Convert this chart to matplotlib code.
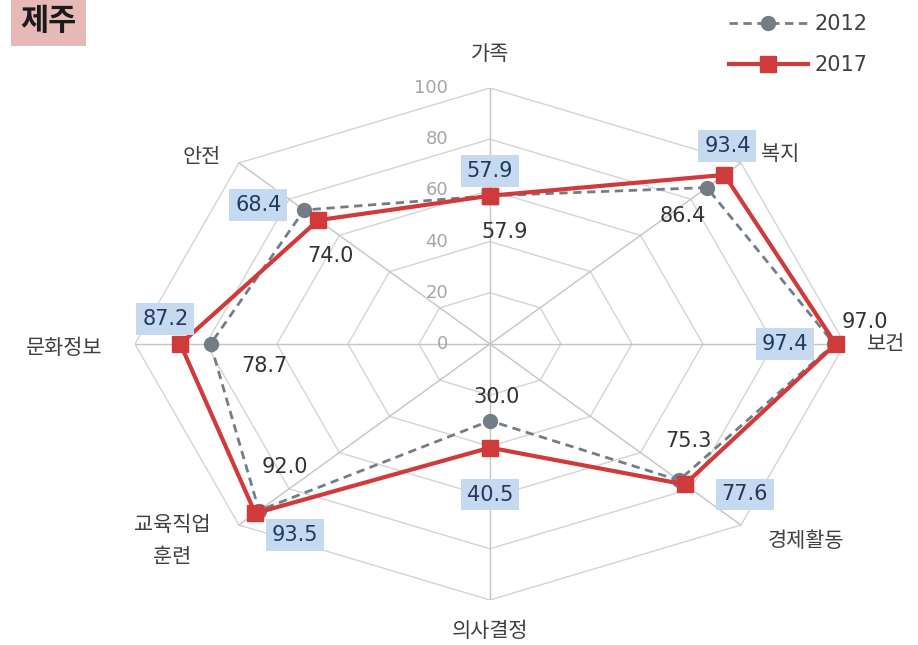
import numpy as np
import matplotlib
matplotlib.use("Agg")
import matplotlib.pyplot as plt

plt.rcParams['font.family'] = ['Noto Sans CJK KR', 'DejaVu Sans']

categories = ['가족', '복지', '보건', '경제활동', '의사결정', '교육직업\n훈련', '문화정보', '안전']
values_2012 = [57.9, 86.4, 97.0, 75.3, 30.0, 92.0, 78.7, 74.0]
values_2017 = [57.9, 93.4, 97.4, 77.6, 40.5, 93.5, 87.2, 68.4]
ring_ticks = [0, 20, 40, 60, 80, 100]

# label offsets in pixels (x, y) relative to each point
off_2017 = [(0, 25), (3, 29), (-51, 0), (60, -10), (0, -47), (40, -22), (-15, 25), (-60, 15)]
off_2012 = [(15, -36), (-24, -28), (31, 22), (9, 39), (7, 24), (26, 44), (54, -22), (26, -46)]
off_cat = [(0, 34), (39, 9), (41, 0), (65, -16), (0, -31), (-67, -16), (-71, -4), (-37, 6)]

c2012 = '#737d87'
c2017 = '#d03a3a'
num_font = 'DejaVu Sans'

n = len(categories)
theta = np.arange(n) * 2 * np.pi / n


def to_xy(r):
    r = np.asarray(r, dtype=float)
    return r * np.sin(theta), r * np.cos(theta)


fig = plt.figure(figsize=(9.18, 6.45), dpi=100)
ax = fig.add_axes([0.147, 0.0698, 0.7734, 0.7938])
ax.set_xlim(-100, 100)
ax.set_ylim(-100, 100)
ax.axis('off')

# octagon grid
for r in ring_ticks[1:]:
    gx, gy = to_xy([r] * n)
    ax.plot(np.append(gx, gx[0]), np.append(gy, gy[0]), color='#d4d4d4', lw=1, zorder=1)
sx, sy = to_xy([100] * n)
for x, y in zip(sx, sy):
    ax.plot([0, x], [0, y], color='#c4c4c4', lw=1, zorder=1)

for r in ring_ticks:
    ax.annotate(str(r), xy=(0, r), xytext=(-42, 0), textcoords='offset pixels',
                ha='right', va='center', fontsize=13, color='#a6a6a6',
                family=num_font, zorder=2)

# series
x12, y12 = to_xy(values_2012)
x17, y17 = to_xy(values_2017)
ax.plot(np.append(x12, x12[0]), np.append(y12, y12[0]), color=c2012, lw=2,
        ls=(0, (3, 2)), marker='o', ms=10, zorder=3)
ax.plot(np.append(x17, x17[0]), np.append(y17, y17[0]), color=c2017, lw=3,
        marker='s', ms=11, zorder=4)

for i in range(n):
    ax.annotate(f'{values_2017[i]:.1f}', xy=(x17[i], y17[i]), xytext=off_2017[i],
                textcoords='offset pixels', ha='center', va='center', fontsize=15,
                color='#1f3a5f', family=num_font, zorder=5,
                bbox=dict(boxstyle='square,pad=0.28', fc='#c5d9f1', ec='none'))
    ax.annotate(f'{values_2012[i]:.1f}', xy=(x12[i], y12[i]), xytext=off_2012[i],
                textcoords='offset pixels', ha='center', va='center', fontsize=15,
                color='#333333', family=num_font, zorder=5)
    ax.annotate(categories[i], xy=(sx[i], sy[i]), xytext=off_cat[i],
                textcoords='offset pixels', ha='center', va='center', fontsize=15,
                color='#404040', linespacing=1.6, zorder=5)

# title box
fig.text(0.053, 0.967, '제주', ha='center', va='center', fontsize=22, fontweight='bold',
         color='#1a1a1a', bbox=dict(boxstyle='square,pad=0.3', fc='#e6b8b7', ec='none'))

# legend
h12, = ax.plot([], [], color=c2012, lw=2, ls=(0, (3, 2)), marker='o', ms=10)
h17, = ax.plot([], [], color=c2017, lw=3, marker='s', ms=11)
leg = fig.legend([h12, h17], ['2012', '2017'], loc='upper right', bbox_to_anchor=(0.965, 1.007),
                 frameon=False, handlelength=3.8, labelspacing=1.0,
                 handletextpad=0.3, labelcolor='#404040',
                 prop={'family': num_font, 'size': 15})

fig.savefig('out.png', dpi=100, facecolor='white')
